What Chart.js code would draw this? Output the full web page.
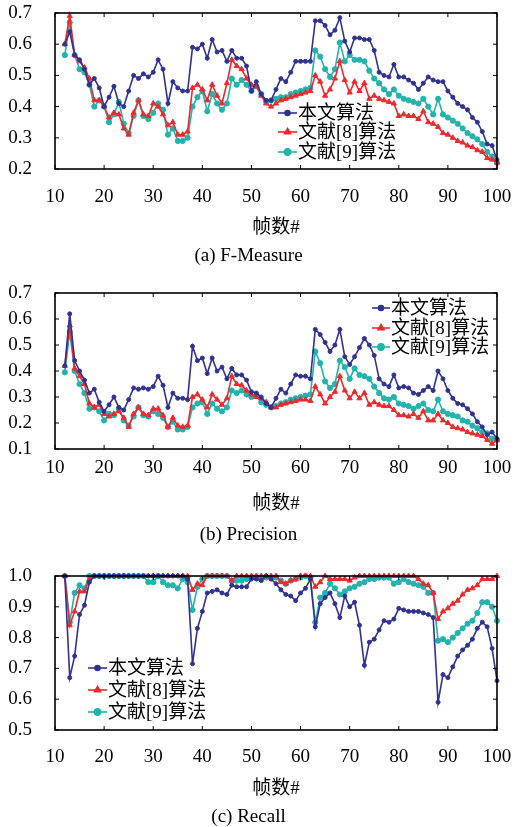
<!DOCTYPE html>
<html>
<head>
<meta charset="utf-8">
<script src="https://cdn.jsdelivr.net/npm/chart.js@4.4.1/dist/chart.umd.min.js"></script>
<style>
html, body { margin: 0; padding: 0; background: #fff; }
canvas { position: absolute; left: 0; }
</style>
</head>
<body>
<canvas id="chartA" width="517" height="270" style="top:0px"></canvas>
<canvas id="chartB" width="517" height="275" style="top:275px"></canvas>
<canvas id="chartC" width="517" height="272" style="top:555px"></canvas>
<script>
// frame numbers (x values)
const frames = [12, 13, 14, 15, 16, 17, 18, 19, 20,
  21, 22, 23, 24, 25, 26, 27, 28, 29, 30,
  31, 32, 33, 34, 35, 36, 37, 38, 39, 40,
  41, 42, 43, 44, 45, 46, 47, 48, 49, 50,
  51, 52, 53, 54, 55, 56, 57, 58, 59, 60,
  61, 62, 63, 64, 65, 66, 67, 68, 69, 70,
  71, 72, 73, 74, 75, 76, 77, 78, 79, 80,
  81, 82, 83, 84, 85, 86, 87, 88, 89, 90,
  91, 92, 93, 94, 95, 96, 97, 98, 99, 100];

const seriesNames = ['本文算法', '文献[8]算法', '文献[9]算法'];
const xTitle = '帧数#';
const xTicks = [10, 20, 30, 40, 50, 60, 70, 80, 90, 100];

// (a) F-Measure
const fmBlue = [0.60, 0.64, 0.565, 0.55, 0.52, 0.47, 0.49, 0.46, 0.40,
  0.43, 0.465, 0.41, 0.40, 0.45, 0.50, 0.49, 0.505, 0.495, 0.51,
  0.55, 0.52, 0.41, 0.48, 0.46, 0.45, 0.45, 0.59, 0.585, 0.60,
  0.555, 0.615, 0.575, 0.58, 0.545, 0.58, 0.555, 0.555, 0.53, 0.45,
  0.48, 0.44, 0.42, 0.42, 0.455, 0.49, 0.48, 0.51, 0.545, 0.545,
  0.545, 0.545, 0.675, 0.675, 0.66, 0.63, 0.645, 0.685, 0.61, 0.575,
  0.62, 0.62, 0.615, 0.615, 0.58, 0.51, 0.50, 0.495, 0.535, 0.495,
  0.495, 0.485, 0.475, 0.455, 0.475, 0.495, 0.485, 0.48, 0.48, 0.45,
  0.43, 0.41, 0.40, 0.39, 0.365, 0.35, 0.32, 0.28, 0.275, 0.23];
const fmRed = [0.60, 0.69, 0.565, 0.545, 0.525, 0.49, 0.42, 0.42, 0.40,
  0.365, 0.38, 0.375, 0.33, 0.31, 0.38, 0.42, 0.375, 0.37, 0.41,
  0.40, 0.375, 0.34, 0.35, 0.31, 0.31, 0.32, 0.46, 0.47, 0.455,
  0.42, 0.47, 0.435, 0.41, 0.475, 0.55, 0.53, 0.52, 0.49, 0.47,
  0.465, 0.435, 0.41, 0.40, 0.41, 0.42, 0.425, 0.43, 0.435, 0.44,
  0.445, 0.45, 0.50, 0.48, 0.435, 0.455, 0.49, 0.545, 0.485, 0.445,
  0.48, 0.45, 0.475, 0.425, 0.435, 0.425, 0.42, 0.415, 0.41, 0.37,
  0.375, 0.37, 0.37, 0.36, 0.385, 0.35, 0.345, 0.335, 0.315, 0.31,
  0.30, 0.29, 0.285, 0.275, 0.27, 0.26, 0.255, 0.235, 0.23, 0.22];
const fmTeal = [0.565, 0.67, 0.565, 0.52, 0.51, 0.47, 0.40, 0.42, 0.40,
  0.35, 0.375, 0.415, 0.345, 0.315, 0.37, 0.42, 0.37, 0.36, 0.38,
  0.41, 0.39, 0.31, 0.33, 0.29, 0.29, 0.30, 0.40, 0.43, 0.45,
  0.385, 0.44, 0.41, 0.39, 0.41, 0.49, 0.47, 0.485, 0.47, 0.45,
  0.465, 0.44, 0.415, 0.42, 0.425, 0.43, 0.43, 0.44, 0.445, 0.45,
  0.455, 0.46, 0.58, 0.56, 0.52, 0.495, 0.52, 0.605, 0.545, 0.565,
  0.55, 0.55, 0.545, 0.515, 0.49, 0.475, 0.455, 0.44, 0.455, 0.435,
  0.425, 0.42, 0.415, 0.41, 0.425, 0.40, 0.375, 0.425, 0.375, 0.365,
  0.355, 0.345, 0.33, 0.315, 0.305, 0.295, 0.28, 0.255, 0.24, 0.22];

// (b) Precision
const prBlue = [0.42, 0.62, 0.44, 0.40, 0.365, 0.315, 0.33, 0.28, 0.245,
  0.27, 0.30, 0.26, 0.25, 0.29, 0.335, 0.33, 0.335, 0.33, 0.34,
  0.38, 0.345, 0.26, 0.315, 0.295, 0.295, 0.29, 0.495, 0.44, 0.45,
  0.39, 0.45, 0.40, 0.415, 0.37, 0.41, 0.385, 0.385, 0.365, 0.32,
  0.315, 0.30, 0.275, 0.26, 0.295, 0.33, 0.315, 0.35, 0.385, 0.38,
  0.38, 0.37, 0.56, 0.54, 0.51, 0.475, 0.50, 0.56, 0.455, 0.425,
  0.455, 0.49, 0.525, 0.50, 0.46, 0.37, 0.35, 0.34, 0.385, 0.335,
  0.34, 0.335, 0.315, 0.31, 0.325, 0.34, 0.325, 0.40, 0.37, 0.325,
  0.295, 0.275, 0.27, 0.255, 0.235, 0.205, 0.185, 0.155, 0.165, 0.14];
const prRed = [0.42, 0.575, 0.41, 0.38, 0.35, 0.275, 0.26, 0.27, 0.235,
  0.225, 0.235, 0.245, 0.22, 0.185, 0.235, 0.26, 0.235, 0.23, 0.255,
  0.255, 0.23, 0.185, 0.22, 0.19, 0.185, 0.19, 0.30, 0.31, 0.29,
  0.26, 0.31, 0.29, 0.27, 0.295, 0.38, 0.35, 0.345, 0.325, 0.31,
  0.30, 0.295, 0.28, 0.26, 0.26, 0.27, 0.275, 0.28, 0.285, 0.29,
  0.29, 0.285, 0.34, 0.31, 0.275, 0.30, 0.32, 0.38, 0.325, 0.295,
  0.32, 0.295, 0.315, 0.27, 0.28, 0.27, 0.265, 0.265, 0.25, 0.23,
  0.23, 0.225, 0.235, 0.22, 0.245, 0.21, 0.21, 0.235, 0.21, 0.20,
  0.185, 0.18, 0.175, 0.165, 0.16, 0.155, 0.15, 0.135, 0.12, 0.135];
const prTeal = [0.395, 0.55, 0.40, 0.35, 0.315, 0.255, 0.26, 0.245, 0.21,
  0.235, 0.23, 0.255, 0.21, 0.19, 0.225, 0.26, 0.23, 0.225, 0.245,
  0.235, 0.22, 0.185, 0.205, 0.175, 0.175, 0.185, 0.26, 0.275, 0.28,
  0.235, 0.275, 0.255, 0.245, 0.26, 0.325, 0.315, 0.325, 0.31, 0.30,
  0.305, 0.28, 0.27, 0.26, 0.265, 0.275, 0.28, 0.29, 0.295, 0.30,
  0.305, 0.31, 0.475, 0.43, 0.36, 0.335, 0.35, 0.44, 0.415, 0.37,
  0.41, 0.385, 0.38, 0.37, 0.34, 0.315, 0.295, 0.29, 0.30, 0.275,
  0.27, 0.265, 0.255, 0.265, 0.275, 0.25, 0.245, 0.29, 0.245, 0.235,
  0.23, 0.225, 0.21, 0.205, 0.19, 0.18, 0.165, 0.16, 0.14, 0.135];

// (c) Recall
const reBlue = [1.0, 0.67, 0.74, 0.875, 0.905, 0.98, 1.0, 1.0, 1.0,
  1.0, 1.0, 1.0, 1.0, 1.0, 1.0, 1.0, 1.0, 1.0, 1.0,
  1.0, 1.0, 1.0, 1.0, 1.0, 1.0, 0.99, 0.715, 0.83, 0.885,
  0.945, 0.95, 0.955, 0.945, 0.94, 0.97, 0.965, 0.965, 0.965, 0.99,
  0.99, 0.985, 1.0, 0.99, 0.975, 0.955, 0.94, 0.935, 0.92, 0.945,
  0.96, 0.99, 0.835, 0.91, 0.93, 0.945, 0.91, 0.865, 0.935, 0.90,
  0.915, 0.84, 0.71, 0.785, 0.795, 0.825, 0.855, 0.85, 0.86, 0.895,
  0.89, 0.885, 0.885, 0.885, 0.88, 0.875, 0.865, 0.59, 0.68, 0.67,
  0.705, 0.74, 0.76, 0.775, 0.795, 0.83, 0.85, 0.835, 0.765, 0.66];
const reRed = [1.0, 0.84, 0.885, 0.95, 0.95, 0.99, 1.0, 1.0, 1.0,
  1.0, 1.0, 1.0, 1.0, 1.0, 1.0, 1.0, 1.0, 1.0, 1.0,
  1.0, 1.0, 1.0, 1.0, 1.0, 1.0, 1.0, 0.955, 0.975, 0.97,
  1.0, 1.0, 1.0, 1.0, 1.0, 0.985, 1.0, 1.0, 1.0, 1.0,
  1.0, 1.0, 1.0, 1.0, 1.0, 0.98, 0.975, 0.985, 0.99, 1.0,
  1.0, 1.0, 0.965, 0.98, 1.0, 0.99, 0.99, 0.99, 0.99, 0.985,
  0.995, 1.0, 1.0, 1.0, 1.0, 1.0, 1.0, 1.0, 1.0, 1.0,
  1.0, 1.0, 1.0, 0.99, 0.975, 0.97, 0.945, 0.86, 0.885, 0.895,
  0.91, 0.92, 0.94, 0.955, 0.96, 0.97, 0.99, 0.99, 0.99, 1.0];
const reTeal = [1.0, 0.85, 0.945, 0.97, 0.96, 1.0, 1.0, 1.0, 1.0,
  1.0, 1.0, 1.0, 1.0, 1.0, 1.0, 1.0, 1.0, 0.98, 0.98,
  1.0, 0.98, 0.97, 0.97, 0.96, 0.99, 0.98, 0.89, 0.965, 0.99,
  1.0, 1.0, 1.0, 1.0, 1.0, 0.985, 0.985, 0.985, 0.99, 0.995,
  0.995, 0.995, 0.995, 0.995, 0.995, 0.985, 0.975, 0.985, 0.99, 0.995,
  1.0, 0.995, 0.85, 0.93, 0.945, 0.975, 0.96, 0.94, 0.95, 0.96,
  0.965, 0.975, 0.98, 0.99, 0.99, 0.995, 0.995, 0.995, 0.975, 0.98,
  0.99, 0.98, 0.975, 0.97, 0.965, 0.945, 0.945, 0.79, 0.795, 0.785,
  0.80, 0.815, 0.83, 0.845, 0.855, 0.88, 0.915, 0.915, 0.90, 0.855];

const yTicksA = [0.2, 0.3, 0.4, 0.5, 0.6, 0.7];
const yTicksB = [0.1, 0.2, 0.3, 0.4, 0.5, 0.6, 0.7];
const yTicksC = [0.5, 0.6, 0.7, 0.8, 0.9, 1.0];

const FONT = "'Liberation Serif', 'Noto Sans CJK SC', serif";
const BLUE = '#30328f';
const RED = '#ec2a2e';
const TEAL = '#22b3ad';
const PLOT_LEFT = 55, PLOT_RIGHT = 497;

function toPoints(vals) {
  return frames.map((f, i) => ({ x: f, y: vals[i] }));
}

function makeDatasets(blue, red, teal) {
  const base = { borderWidth: 1.6, tension: 0, clip: false, pointBorderWidth: 1 };
  return [
    Object.assign({ label: seriesNames[0], data: toPoints(blue), borderColor: BLUE, backgroundColor: BLUE,
      pointStyle: 'circle', pointRadius: 2 }, base),
    Object.assign({ label: seriesNames[1], data: toPoints(red), borderColor: RED, backgroundColor: RED,
      pointStyle: 'triangle', pointRadius: 3 }, base),
    Object.assign({ label: seriesNames[2], data: toPoints(teal), borderColor: TEAL, backgroundColor: TEAL,
      pointStyle: 'circle', pointRadius: 2.6 }, base)
  ];
}

// box + inward tick marks + legend inside the plot
const framePlugin = {
  id: 'frame',
  afterDatasetsDraw(chart) {
    const ctx = chart.ctx;
    const a = chart.chartArea;
    const xs = chart.scales.x, ys = chart.scales.y;
    ctx.save();
    ctx.strokeStyle = '#000';
    ctx.lineWidth = 1;
    ctx.beginPath();
    xs.ticks.forEach(t => {
      const px = xs.getPixelForValue(t.value);
      ctx.moveTo(px, a.bottom); ctx.lineTo(px, a.bottom - 4);
      ctx.moveTo(px, a.top); ctx.lineTo(px, a.top + 4);
    });
    ys.ticks.forEach(t => {
      const py = ys.getPixelForValue(t.value);
      ctx.moveTo(a.left, py); ctx.lineTo(a.left + 4, py);
      ctx.moveTo(a.right, py); ctx.lineTo(a.right - 4, py);
    });
    ctx.stroke();
    ctx.lineWidth = 1.6;
    ctx.strokeRect(a.left, a.top, a.right - a.left, a.bottom - a.top);

    const lg = chart.options.plugins.frame;
    ctx.font = '19px ' + FONT;
    ctx.textBaseline = 'middle';
    ctx.textAlign = 'left';
    chart.data.datasets.forEach((ds, i) => {
      const y = lg.rows[i];
      ctx.strokeStyle = ds.borderColor;
      ctx.fillStyle = ds.backgroundColor;
      ctx.lineWidth = 1.6;
      ctx.beginPath();
      ctx.moveTo(lg.x, y); ctx.lineTo(lg.x + lg.len, y);
      ctx.stroke();
      Chart.helpers.drawPoint(ctx, { pointStyle: ds.pointStyle, radius: ds.pointRadius + 0.5, borderWidth: 1, rotation: 0 },
        lg.x + lg.len / 2, y);
      ctx.fillStyle = '#000';
      ctx.fillText(ds.label, lg.x + lg.len + 1, y + 1);
    });
    ctx.restore();
  }
};

function makePanel(id, p, datasets, yTicks, caption) {
  const lh = 19 * 1.2;
  const capTop = p.captionY - lh / 2;
  const capPadBottom = p.top + p.height - p.captionY - lh / 2 - 2;
  const titlePadBottom = capTop - (p.titleY + lh / 2) - 4;
  const tickPad = p.labelY - lh / 2 - p.plotBottom - 5;
  const xAxisHeight = capTop - p.plotBottom;

  const chart = new Chart(document.getElementById(id), {
    type: 'line',
    data: { datasets: datasets },
    plugins: [framePlugin],
    options: {
      responsive: false,
      animation: false,
      layout: { padding: { top: p.plotTop - p.top, right: 517 - PLOT_RIGHT, left: 0, bottom: 0 } },
      scales: {
        x: {
          type: 'linear',
          min: xTicks[0],
          max: xTicks[xTicks.length - 1],
          grid: { display: false },
          border: { display: false },
          afterBuildTicks: s => { s.ticks = xTicks.map(v => ({ value: v })); },
          afterFit: s => { s.height = xAxisHeight; s.paddingLeft = 0; s.paddingRight = 0; },
          ticks: { autoSkip: false, maxRotation: 0, padding: Math.max(tickPad, 0), color: '#000',
            font: { family: FONT, size: 19 } },
          title: { display: true, text: xTitle, color: '#000', font: { family: FONT, size: 19 },
            padding: { top: 0, bottom: titlePadBottom } }
        },
        y: {
          min: yTicks[0],
          max: yTicks[yTicks.length - 1],
          grid: { display: false },
          border: { display: false },
          afterBuildTicks: s => { s.ticks = yTicks.map(v => ({ value: v })); },
          afterFit: s => { s.width = PLOT_LEFT; s.paddingTop = 0; s.paddingBottom = 0; },
          ticks: { autoSkip: false, padding: 15, color: '#000', font: { family: FONT, size: 19 },
            callback: v => Number(v).toFixed(1) }
        }
      },
      plugins: {
        legend: { display: false },
        tooltip: { enabled: false },
        title: { display: true, position: 'bottom', text: caption, color: '#000',
          font: { family: FONT, size: 19, weight: 'normal' },
          padding: { top: 0, bottom: capPadBottom } },
        frame: { x: p.legendX, len: p.legendLen, rows: p.legendRows.map(r => r - p.top) }
      }
    }
  });

  // nudge if Chart.js still moved the plot area
  const pad = chart.options.layout.padding;
  pad.top += (p.plotTop - p.top) - chart.chartArea.top;
  pad.right += chart.chartArea.right - PLOT_RIGHT;
  chart.update();
}

makePanel('chartA',
  { top: 0, height: 270, plotTop: 13, plotBottom: 167, labelY: 192, titleY: 222, captionY: 254,
    legendX: 278, legendLen: 19, legendRows: [113, 132, 152] },
  makeDatasets(fmBlue, fmRed, fmTeal), yTicksA, '(a) F-Measure');

makePanel('chartB',
  { top: 275, height: 275, plotTop: 293, plotBottom: 447, labelY: 462, titleY: 498, captionY: 533,
    legendX: 372, legendLen: 18, legendRows: [308, 328, 347] },
  makeDatasets(prBlue, prRed, prTeal), yTicksB, '(b) Precision');

makePanel('chartC',
  { top: 555, height: 272, plotTop: 576, plotBottom: 728, labelY: 752, titleY: 783, captionY: 815,
    legendX: 88, legendLen: 19, legendRows: [668, 690, 712] },
  makeDatasets(reBlue, reRed, reTeal), yTicksC, '(c) Recall');
</script>
</body>
</html>
